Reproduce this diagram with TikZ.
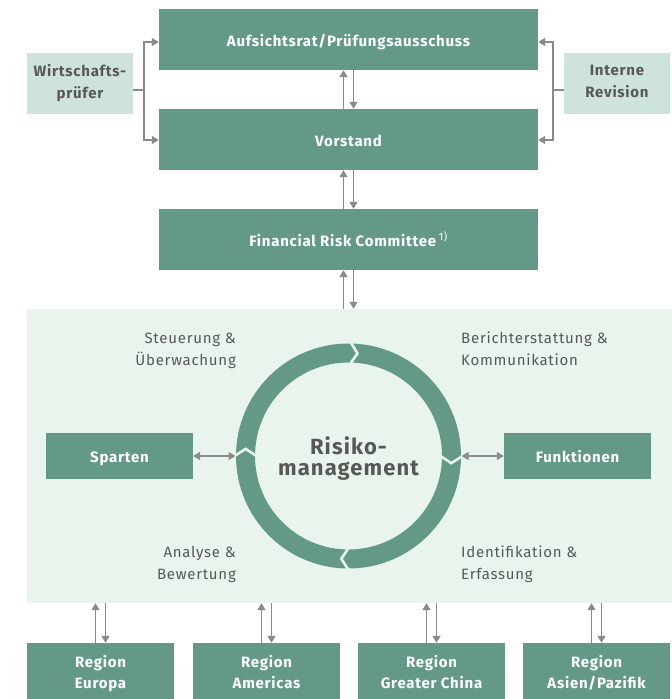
\documentclass[tikz,border=0pt]{standalone}
\usepackage{fontspec}
\setmainfont{Fira Sans}[LetterSpace=5]
\usetikzlibrary{arrows.meta,calc}
\definecolor{boxg}{RGB}{99,153,134}
\definecolor{lightb}{RGB}{205,227,219}
\definecolor{panelc}{RGB}{233,245,236}
\definecolor{txtg}{RGB}{88,88,88}
\definecolor{arrc}{RGB}{138,138,138}
\newcommand{\bstrut}{\rule[-5pt]{0pt}{23pt}}
\begin{document}
\begin{tikzpicture}[x=1pt,y=-1pt,
  gbox/.style={fill=boxg,text=white,font=\fontsize{15}{21}\selectfont\bfseries,align=center,inner sep=0pt,
    execute at begin node=\bstrut, execute at end node=\bstrut},
  lbox/.style={fill=lightb,text=txtg,font=\fontsize{15}{22}\selectfont\bfseries,align=center,inner sep=0pt,minimum width=106pt,minimum height=61pt,
    execute at begin node=\bstrut, execute at end node=\bstrut},
  conn/.style={draw=arrc,line width=1.4pt,-{Triangle[length=7pt,width=8pt]}},
  plainline/.style={draw=arrc,line width=1.4pt},
  dconn/.style={draw=arrc,line width=1.4pt,{Triangle[length=7pt,width=8pt]}-{Triangle[length=7pt,width=8pt]}},
  lbl/.style={text=txtg,font=\fontsize{15}{22}\selectfont,inner sep=0pt,
    execute at begin node=\bstrut, execute at end node=\bstrut},
  chev/.style={draw=panelc,line width=2.6pt,line join=miter}
]
\useasboundingbox (0,0) rectangle (672,699);

% top boxes
\node[gbox,minimum width=379pt,minimum height=61pt] (auf) at (348.5,39.5) {Aufsichtsrat/Prüfungsausschuss};
\node[gbox,minimum width=379pt,minimum height=61pt] (vor) at (348.5,139.5) {Vorstand};
\node[gbox,minimum width=379pt,minimum height=61pt] (frc) at (348.5,239.5) {Financial Risk Committee\,\textsuperscript{\mdseries 1)}};
\node[lbox] (wp) at (80,83.5) {Wirtschafts-\\prüfer};
\node[lbox] (ir) at (617,83.5) {Interne\\Revision};

% panel
\node[fill=panelc,minimum width=645pt,minimum height=294pt,inner sep=0pt] (panel) at (349.5,456) {};

% ring
\coordinate (rc) at (348.5,456);
\draw[boxg,line width=19pt] (rc) circle[radius=103pt];
\foreach \a in {89,0,270,180}{
  \draw[chev] ($(rc)+(\a:114pt)$) -- ($(rc)+(\a-4:103pt)$) -- ($(rc)+(\a:92pt)$);
}
\node[text=txtg,font=\fontsize{22}{21}\selectfont\bfseries,align=center,inner sep=0pt] (rm) at (348.5,458.5) {Risiko-\\management};

% cycle labels
\node[lbl,align=right,anchor=east] (l1) at (236,351.5) {Steuerung \&\\Überwachung};
\node[lbl,align=left,anchor=west] (l2) at (461,351.5) {Berichterstattung \&\\Kommunikation};
\node[lbl,align=right,anchor=east] (l3) at (236,565.5) {Analyse \&\\Bewertung};
\node[lbl,align=left,anchor=west] (l4) at (461,565.5) {Identifikation \&\\Erfassung};

% side boxes
\node[gbox,minimum width=147pt,minimum height=46pt] (sp) at (119.5,456) {Sparten};
\node[gbox,minimum width=147pt,minimum height=46pt] (fk) at (577.5,456) {Funktionen};
\coordinate (rl) at ($(rc)+(180:113pt)$);
\coordinate (rr) at ($(rc)+(0:113pt)$);
\draw[dconn] (sp.east) -- (rl);
\draw[dconn] (rr) -- (fk.west);

% region boxes
\node[gbox,minimum width=147pt,minimum height=62pt] (eu) at (100.5,674) {Region\\Europa};
\node[gbox,minimum width=147pt,minimum height=62pt] (am) at (266.5,674) {Region\\Americas};
\node[gbox,minimum width=147pt,minimum height=62pt] (gc) at (431.5,674) {Region\\Greater China};
\node[gbox,minimum width=147pt,minimum height=62pt] (ap) at (596.5,674) {Region\\Asien/Pazifik};

% vertical double arrows
\foreach \u/\l in {vor/auf,frc/vor}{
  \draw[conn] ([xshift=-5pt]\u.north) -- ([xshift=-5pt]\l.south);
  \draw[conn] ([xshift=5pt]\l.south) -- ([xshift=5pt]\u.north);
}
\draw[conn] ([xshift=-5pt]frc.south |- panel.north) -- ([xshift=-5pt]frc.south);
\draw[conn] ([xshift=5pt]frc.south) -- ([xshift=5pt]frc.south |- panel.north);
\foreach \r in {eu,am,gc,ap}{
  \draw[conn] ([xshift=-5pt]\r.north) -- ([xshift=-5pt]\r.north |- panel.south);
  \draw[conn] ([xshift=5pt]\r.north |- panel.south) -- ([xshift=5pt]\r.north);
}

% side connectors
\coordinate (jl) at (144,90);
\coordinate (jr) at (553,90);
\draw[plainline] (wp.east |- jl) -- (jl);
\draw[conn] (jl) |- ([yshift=-2.5pt]auf.west);
\draw[conn] (jl) |- ([yshift=-0.5pt]vor.west);
\draw[plainline] (ir.west |- jr) -- (jr);
\draw[conn] (jr) |- ([yshift=-2.5pt]auf.east);
\draw[conn] (jr) |- ([yshift=-0.5pt]vor.east);
\end{tikzpicture}
\end{document}
